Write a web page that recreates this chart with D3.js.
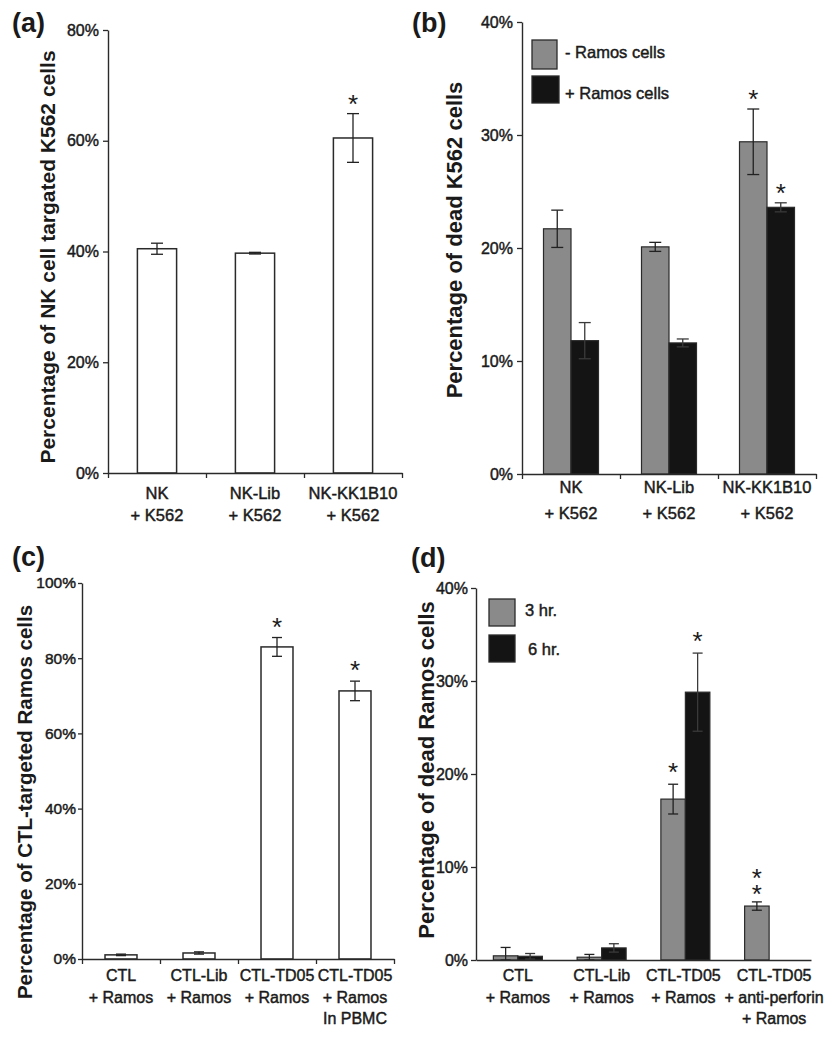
<!DOCTYPE html>
<html><head><meta charset="utf-8">
<script src="https://cdn.jsdelivr.net/npm/d3@7"></script>
<style>
html,body{margin:0;padding:0;background:#fff;}
svg text{font-family:"Liberation Sans",Arial,Helvetica,sans-serif;fill:#1a1a1a;}
svg text.heavy{stroke:#1a1a1a;stroke-width:0.45px;paint-order:stroke;}
</style></head>
<body><svg id="chart" width="834" height="1050"></svg>
<script>
// ---------- DATA ----------
// Panel (a)
const catsA = [["NK","+ K562"],["NK-Lib","+ K562"],["NK-KK1B10","+ K562"]];
const valsA = [40.5, 39.7, 60.5];
const errA  = [1.0, 0.15, 4.4];
const sigA  = [0, 0, 1];
const ticksA = [0, 20, 40, 60, 80];
const titleA = "Percentage of NK cell targated K562 cells";

// Panel (b)
const catsB = [["NK","+ K562"],["NK-Lib","+ K562"],["NK-KK1B10","+ K562"]];
const seriesB = ["- Ramos cells", "+ Ramos cells"];
const valsB_minus = [21.7, 20.1, 29.4];
const errB_minus  = [1.65, 0.4, 2.9];
const sigB_minus  = [0, 0, 1];
const valsB_plus  = [11.8, 11.6, 23.6];
const errB_plus   = [1.6, 0.35, 0.4];
const sigB_plus   = [0, 0, 1];
const ticksB = [0, 10, 20, 30, 40];
const titleB = "Percentage of dead K562 cells";

// Panel (c)
const catsC = [["CTL","+ Ramos"],["CTL-Lib","+ Ramos"],["CTL-TD05","+ Ramos"],["CTL-TD05","+ Ramos","In PBMC"]];
const valsC = [1.1, 1.6, 83.0, 71.3];
const errC  = [0.2, 0.3, 2.5, 2.6];
const sigC  = [0, 0, 1, 1];
const ticksC = [0, 20, 40, 60, 80, 100];
const titleC = "Percentage of CTL-targeted Ramos cells";

// Panel (d)
const catsD = [["CTL","+ Ramos"],["CTL-Lib","+ Ramos"],["CTL-TD05","+ Ramos"],["CTL-TD05","+ anti-perforin","+ Ramos"]];
const seriesD = ["3 hr.", "6 hr."];
const valsD_3h = [0.45, 0.3, 17.3, 5.8];
const errD_3h  = [0.9, 0.3, 1.6, 0.45];
const sigD_3h  = [0, 0, 1, 2];
const valsD_6h = [0.4, 1.3, 28.8, null];
const errD_6h  = [0.3, 0.45, 4.2, null];
const sigD_6h  = [0, 0, 1, 0];
const ticksD = [0, 10, 20, 30, 40];
const titleD = "Percentage of dead Ramos cells";

// ---------- DRAWING ----------
const svg = d3.select("#chart");
const GRAY = "#8a8a8a", BLACK = "#141414", EDGE = "#2a2a2a";

function panel(cfg){
  const g = svg.append("g");
  const n = cfg.cats.length;
  const y = d3.scaleLinear().domain([0, cfg.max]).range([cfg.y0, cfg.yTop]);
  const xc = d3.scaleBand().domain(d3.range(n)).range([cfg.xL, cfg.xR]).padding(0);

  // y axis
  const ya = g.append("g").attr("transform", `translate(${cfg.xL},0)`)
    .call(d3.axisLeft(y).tickValues(cfg.ticks).tickFormat(d => d + "%").tickSizeInner(cfg.ytick).tickSizeOuter(0).tickPadding(cfg.ypad));
  ya.select(".domain").attr("stroke", EDGE).attr("stroke-width", 1.4);
  ya.selectAll(".tick line").attr("stroke", EDGE).attr("stroke-width", 1.3);
  ya.selectAll(".tick text").attr("font-size", cfg.tickFs).attr("fill", "#1a1a1a").attr("class", "heavy")
    .attr("font-family", '"Liberation Sans",Arial,sans-serif');

  // bars
  const series = cfg.series;
  const ns = series.length;
  series.forEach((s, si) => {
    s.vals.forEach((v, i) => {
      if (v == null) return;
      let x0, w;
      if (ns === 1) {
        const inner = d3.scaleBand().domain([0]).range([xc(i), xc(i) + xc.bandwidth()]).paddingInner(cfg.pad).paddingOuter(cfg.pad/2);
        x0 = inner(0); w = inner.bandwidth();
      } else {
        const c = xc(i) + xc.bandwidth()/2;
        const inner = d3.scaleBand().domain(d3.range(ns)).range([c - cfg.pairW/2, c + cfg.pairW/2]);
        x0 = inner(si); w = inner.bandwidth();
      }
      g.append("rect").attr("x", x0).attr("y", y(v)).attr("width", w).attr("height", y(0) - y(v))
        .attr("fill", s.fill).attr("stroke", EDGE).attr("stroke-width", cfg.barStroke);
      const e = s.err[i];
      const cx = x0 + w/2;
      const top = y(v + e), bot = y(Math.max(0, v - e));
      const ec = s.fill === BLACK ? "#3a3a3a" : "#222";
      g.append("line").attr("x1", cx).attr("x2", cx).attr("y1", top).attr("y2", bot).attr("stroke", ec).attr("stroke-width", 1.3);
      [top, bot].forEach(yy => g.append("line").attr("x1", cx - cfg.cap/2).attr("x2", cx + cfg.cap/2).attr("y1", yy).attr("y2", yy).attr("stroke", ec).attr("stroke-width", 1.3));
      const k = s.sig[i];
      if (k === 1) {
        g.append("text").attr("text-anchor", "middle").attr("font-size", 26).attr("fill", "#444")
          .attr("x", cx).attr("y", top - cfg.starGap + 15).text("*");
      } else if (k > 1) {
        // stacked stars as one vertical text run
        const lowestCentre = top - cfg.starGap;
        const highestCentre = lowestCentre - (k - 1) * 12;
        g.append("text").attr("font-size", 26).attr("fill", "#444")
          .attr("x", cx).attr("y", highestCentre - 9)
          .style("writing-mode", "vertical-lr").style("text-orientation", "upright")
          .style("letter-spacing", "-14px")
          .text("*".repeat(k));
      }
    });
  });

  // x axis
  const xl = d3.scaleLinear().domain([0, n]).range([cfg.xL, cfg.xR]);
  const xa = g.append("g").attr("transform", `translate(0,${cfg.y0})`)
    .call(d3.axisBottom(xl).tickValues(cfg.xticks ? d3.range(n + 1) : []).tickFormat("").tickSizeInner(cfg.xtick).tickSizeOuter(0));
  xa.select(".domain").attr("stroke", EDGE).attr("stroke-width", 1.4);
  xa.selectAll(".tick line").attr("stroke", EDGE).attr("stroke-width", 1.3);

  // category labels
  cfg.cats.forEach((lines, i) => {
    const cx = xc(i) + xc.bandwidth()/2 + (cfg.catShift ? cfg.catShift[i] : 0);
    lines.forEach((t, li) => {
      g.append("text").attr("class", "heavy").attr("x", cx).attr("y", cfg.catY[li]).attr("text-anchor", "middle")
        .attr("font-size", cfg.catFs).text(t);
    });
  });

  // y title
  g.append("text").attr("transform", `translate(${cfg.titleX},${cfg.titleY}) rotate(-90)`)
    .attr("text-anchor", "middle").attr("font-size", cfg.titleFs).attr("font-weight", "bold").text(cfg.title);

  // panel label
  g.append("text").attr("x", cfg.labX).attr("y", cfg.labY).attr("font-size", 27).attr("font-weight", "bold").text(cfg.lab);

  // legend
  if (cfg.legend) {
    cfg.series.forEach((s, si) => {
      const L = cfg.legend[si];
      g.append("rect").attr("x", L.x).attr("y", L.y).attr("width", L.w).attr("height", L.h)
        .attr("fill", s.fill).attr("stroke", EDGE).attr("stroke-width", 1.3);
      g.append("text").attr("class", "heavy").attr("x", L.tx).attr("y", L.ty).attr("font-size", cfg.legFs).text(s.name);
    });
  }
}

panel({
  lab: "(a)", labX: 12, labY: 32,
  xL: 108, xR: 402, yTop: 30, y0: 473, max: 80, ticks: ticksA,
  ytick: 5, ypad: 4, tickFs: 16, xticks: true, xtick: 5,
  cats: catsA, catY: [499, 521], catFs: 16.5,
  series: [{name: "", vals: valsA, err: errA, sig: sigA, fill: "#fff"}],
  pad: 0.6, cap: 12, barStroke: 1.5, starGap: 16,
  title: titleA, titleX: 55, titleY: 257, titleFs: 21
});

panel({
  lab: "(b)", labX: 412, labY: 32,
  xL: 522, xR: 816, yTop: 22, y0: 474, max: 40, ticks: ticksB,
  ytick: 5, ypad: 4, tickFs: 16, xticks: true, xtick: 5,
  cats: catsB, catY: [493, 519], catFs: 16.5,
  series: [
    {name: seriesB[0], vals: valsB_minus, err: errB_minus, sig: sigB_minus, fill: GRAY},
    {name: seriesB[1], vals: valsB_plus, err: errB_plus, sig: sigB_plus, fill: BLACK}],
  pairW: 55, cap: 12, barStroke: 1.2, starGap: 16,
  title: titleB, titleX: 462, titleY: 240, titleFs: 22,
  legend: [{x: 532, y: 40, w: 25, h: 29, tx: 565, ty: 58}, {x: 532, y: 76, w: 27, h: 27, tx: 565, ty: 99}],
  legFs: 16.5
});

panel({
  lab: "(c)", labX: 12, labY: 566,
  xL: 82, xR: 394, yTop: 583, y0: 959, max: 100, ticks: ticksC,
  ytick: 4, ypad: 2, tickFs: 15.5, xticks: true, xtick: 5,
  cats: catsC, catY: [981, 1003, 1024], catFs: 16,
  series: [{name: "", vals: valsC, err: errC, sig: sigC, fill: "#fff"}],
  pad: 0.59, cap: 10, barStroke: 1.5, starGap: 17,
  title: titleC, titleX: 32, titleY: 802, titleFs: 20.5
});

panel({
  lab: "(d)", labX: 411, labY: 567,
  xL: 476, xR: 811, yTop: 588, y0: 960, max: 40, ticks: ticksD,
  ytick: 5, ypad: 3, tickFs: 16, xticks: false, xtick: 0,
  cats: catsD, catY: [981, 1003, 1024], catFs: 16, catShift: [0, 0, -2, 5],
  series: [
    {name: seriesD[0], vals: valsD_3h, err: errD_3h, sig: sigD_3h, fill: GRAY},
    {name: seriesD[1], vals: valsD_6h, err: errD_6h, sig: sigD_6h, fill: BLACK}],
  pairW: 49, cap: 10, barStroke: 1.2, starGap: 18,
  title: titleD, titleX: 434, titleY: 770, titleFs: 22,
  legend: [{x: 489, y: 599, w: 26, h: 27, tx: 525, ty: 616}, {x: 489, y: 635, w: 26, h: 27, tx: 528, ty: 655}],
  legFs: 16.5
});
</script></body></html>
